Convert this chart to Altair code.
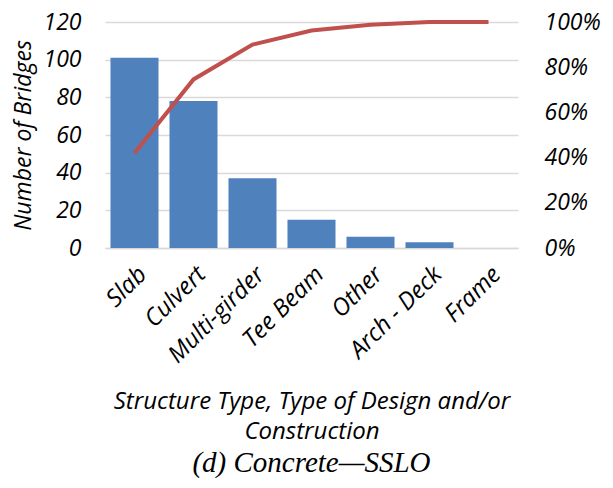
import altair as alt
import pandas as pd

categories = ["Slab", "Culvert", "Multi-girder", "Tee Beam", "Other", "Arch - Deck", "Frame"]
counts = [101, 78, 37, 15, 6, 3, 0]
cumulative_pct = [0.42, 0.746, 0.90, 0.9625, 0.9875, 1.0, 1.0]

df = pd.DataFrame({"cat": categories, "count": counts, "cum": cumulative_pct})

FONT = "Open Sans"

x = alt.X("cat:N", sort=categories,
          scale=alt.Scale(paddingInner=0.186, paddingOuter=0.093),
          axis=alt.Axis(title=["Structure Type, Type of Design and/or", "Construction"],
                        labelAngle=-45, labelFontSize=24, labelFont=FONT,
                        labelFontStyle="italic", labelColor="black", labelPadding=14,
                        ticks=False, domainColor="#D9D9D9", domainWidth=1.5,
                        titleFont=FONT, titleFontStyle="italic", titleFontWeight="normal",
                        titleFontSize=24, titleColor="black", titlePadding=22,
                        titleLineHeight=30))

bars = alt.Chart(df).mark_bar(color="#4F81BD").encode(
    x=x,
    y=alt.Y("count:Q", scale=alt.Scale(domain=[0, 120], nice=False),
            axis=alt.Axis(title="Number of Bridges", values=[0, 20, 40, 60, 80, 100, 120],
                          labelFontSize=23, labelFont=FONT, labelFontStyle="italic",
                          labelColor="black", labelPadding=24, ticks=False, domain=False,
                          gridColor="#D9D9D9", gridWidth=1.5,
                          titleFont=FONT, titleFontStyle="italic", titleFontWeight="normal",
                          titleFontSize=23, titleColor="black", titlePadding=7)),
)

line = alt.Chart(df).mark_line(color="#C0504D", strokeWidth=4).encode(
    x=x,
    y=alt.Y("cum:Q", scale=alt.Scale(domain=[0, 1], nice=False),
            axis=alt.Axis(orient="right", format="%", values=[0, 0.2, 0.4, 0.6, 0.8, 1.0],
                          labelFontSize=23, labelFont=FONT, labelFontStyle="italic",
                          labelColor="black", labelPadding=26, ticks=False, domain=False,
                          grid=False, title=None)),
)

chart = alt.layer(bars, line).resolve_scale(y="independent").properties(
    width=413, height=226,
    autosize=alt.AutoSizeParams(type="none"),
    padding={"left": 97, "top": 14, "right": 87, "bottom": 230},
    title=alt.TitleParams("(d) Concrete—SSLO", orient="bottom", font="Liberation Serif",
                          fontStyle="italic", fontWeight="normal", fontSize=29,
                          color="black", offset=6),
).configure_view(stroke=None)

chart.save("out.html", embed_options={"renderer": "svg", "actions": False})
